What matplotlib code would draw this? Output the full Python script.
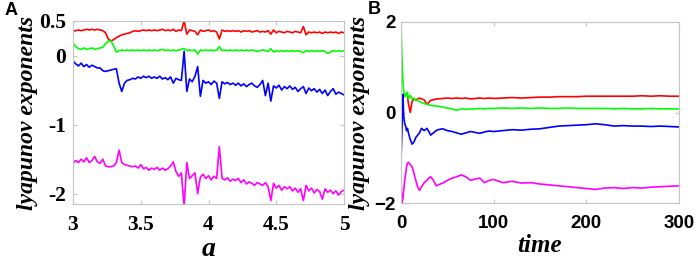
import numpy as np
import matplotlib
matplotlib.use("Agg")
import matplotlib.pyplot as plt

# ---------------- Panel A data (parameter a) ----------------
a_values = np.round(np.arange(3.0, 5.0001, 0.02), 2)

lyap_a_1 = [0.35, 0.36, 0.37, 0.36, 0.37, 0.38, 0.37, 0.38, 0.37, 0.38,
            0.37, 0.36, 0.33, 0.24, 0.21, 0.23, 0.26, 0.28, 0.30, 0.31,
            0.32, 0.33, 0.35, 0.36, 0.35, 0.36, 0.37, 0.36, 0.37, 0.36,
            0.37, 0.36, 0.37, 0.38, 0.36, 0.37, 0.36, 0.38, 0.35, 0.37,
            0.36, 0.50, 0.31, 0.37, 0.36, 0.35, 0.30, 0.37, 0.35, 0.36,
            0.37, 0.35, 0.36, 0.34, 0.24, 0.37, 0.35, 0.36, 0.35, 0.36,
            0.35, 0.36, 0.34, 0.36, 0.35, 0.36, 0.34, 0.35, 0.36, 0.34,
            0.35, 0.34, 0.36, 0.31, 0.37, 0.33, 0.35, 0.34, 0.33, 0.35,
            0.34, 0.33, 0.35, 0.34, 0.33, 0.42, 0.30, 0.34, 0.33, 0.34,
            0.33, 0.34, 0.32, 0.34, 0.33, 0.34, 0.33, 0.34, 0.32, 0.34,
            0.33]

lyap_a_2 = [0.18, 0.13, 0.10, 0.09, 0.11, 0.09, 0.10, 0.11, 0.09, 0.10,
            0.11, 0.12, 0.17, 0.21, 0.21, 0.14, 0.05, 0.07, 0.08, 0.07,
            0.08, 0.07, 0.08, 0.07, 0.08, 0.07, 0.08, 0.07, 0.08, 0.07,
            0.08, 0.07, 0.08, 0.09, 0.07, 0.08, 0.07, 0.08, 0.07, 0.08,
            0.09, 0.10, 0.07, 0.08, 0.07, 0.08, 0.02, 0.08, 0.07, 0.08,
            0.07, 0.08, 0.07, 0.08, 0.13, 0.07, 0.08, 0.07, 0.08, 0.07,
            0.08, 0.07, 0.08, 0.07, 0.08, 0.07, 0.08, 0.07, 0.06, 0.07,
            0.08, 0.07, 0.06, 0.10, 0.05, 0.07, 0.06, 0.07, 0.06, 0.07,
            0.06, 0.07, 0.06, 0.07, 0.06, 0.04, 0.07, 0.06, 0.07, 0.06,
            0.07, 0.06, 0.07, 0.06, 0.03, 0.05, 0.07, 0.06, 0.07, 0.06,
            0.07]

lyap_a_3 = [-0.08, -0.12, -0.15, -0.11, -0.16, -0.13, -0.17, -0.14, -0.16, -0.18,
            -0.18, -0.22, -0.23, -0.22, -0.21, -0.20, -0.19, -0.40, -0.52, -0.40,
            -0.36, -0.35, -0.33, -0.34, -0.31, -0.33, -0.30, -0.32, -0.30, -0.33,
            -0.31, -0.33, -0.30, -0.34, -0.32, -0.35, -0.31, -0.40, -0.33, -0.35,
            -0.36, 0.06, -0.52, -0.34, -0.38, -0.30, -0.16, -0.59, -0.36, -0.40,
            -0.38, -0.42, -0.37, -0.40, -0.62, -0.38, -0.41, -0.39, -0.42, -0.40,
            -0.43, -0.40, -0.44, -0.41, -0.45, -0.42, -0.40, -0.44, -0.46, -0.42,
            -0.36, -0.58, -0.40, -0.66, -0.44, -0.47, -0.43, -0.50, -0.45, -0.48,
            -0.44, -0.49, -0.46, -0.52, -0.48, -0.45, -0.55, -0.47, -0.51, -0.48,
            -0.53, -0.49, -0.55, -0.50, -0.58, -0.52, -0.48, -0.56, -0.53, -0.55,
            -0.57]

lyap_a_4 = [-1.56, -1.52, -1.55, -1.50, -1.54, -1.48, -1.55, -1.52, -1.46, -1.54,
            -1.56, -1.50, -1.60, -1.61, -1.61, -1.60, -1.55, -1.37, -1.55, -1.58,
            -1.59, -1.60, -1.61, -1.60, -1.63, -1.58, -1.64, -1.62, -1.66, -1.63,
            -1.65, -1.62, -1.66, -1.63, -1.66, -1.64, -1.60, -1.54, -1.68, -1.75,
            -1.70, -2.19, -1.55, -1.78, -1.74, -1.70, -2.00, -1.76, -1.72, -1.78,
            -1.74, -1.80, -1.75, -1.78, -1.32, -1.78, -1.80, -1.77, -1.82, -1.79,
            -1.81, -1.78, -1.84, -1.80, -1.86, -1.83, -1.85, -1.88, -1.84, -1.86,
            -1.88, -1.84, -1.90, -2.10, -1.85, -1.92, -1.88, -1.95, -1.90, -1.93,
            -1.90, -1.96, -1.92, -1.98, -1.93, -2.10, -1.88, -1.96, -1.92, -1.99,
            -1.94, -1.97, -2.08, -1.93, -1.98, -1.95, -2.00, -1.96, -2.02, -1.97,
            -1.95]

# ---------------- Panel B data (time) ----------------
time_values = [0, 1, 2, 3, 4, 5, 6, 7, 8, 10, 12, 14, 16, 18, 20, 22, 25, 28, 30, 32,
               35, 38, 40, 45, 50, 55, 60, 65, 70, 75, 80, 85, 90, 95, 100, 110, 120,
               130, 140, 150, 160, 170, 180, 190, 200, 210, 220, 230, 240, 250, 260,
               270, 280, 290, 300]

lyap_t_1 = [-0.50, -0.05, 0.30, 0.35, 0.40, 0.38, 0.42, 0.35, 0.20, 0.00, 0.25, 0.30,
            0.28, 0.30, 0.32, 0.30, 0.28, 0.18, 0.22, 0.27, 0.28, 0.30, 0.30, 0.31,
            0.32, 0.31, 0.32, 0.31, 0.32, 0.30, 0.31, 0.32, 0.31, 0.32, 0.31, 0.32,
            0.33, 0.32, 0.33, 0.34, 0.34, 0.35, 0.35, 0.35, 0.36, 0.36, 0.36, 0.36,
            0.36, 0.36, 0.37, 0.36, 0.37, 0.36, 0.36]

lyap_t_2 = [2.00, 1.20, 0.70, 0.45, 0.35, 0.42, 0.38, 0.45, 0.30, 0.38, 0.30, 0.32,
            0.26, 0.28, 0.24, 0.22, 0.20, 0.18, 0.17, 0.16, 0.15, 0.14, 0.14, 0.12,
            0.10, 0.08, 0.05, 0.08, 0.07, 0.08, 0.08, 0.09, 0.08, 0.09, 0.09, 0.10,
            0.09, 0.10, 0.09, 0.10, 0.09, 0.09, 0.10, 0.09, 0.09, 0.09, 0.09, 0.08,
            0.09, 0.08, 0.08, 0.09, 0.08, 0.08, 0.08]

lyap_t_3 = [-1.10, -0.40, 0.40, -0.10, -0.25, -0.30, -0.40, -0.35, -0.45, -0.60,
            -0.70, -0.65, -0.55, -0.50, -0.45, -0.35, -0.40, -0.35, -0.42, -0.50,
            -0.45, -0.40, -0.38, -0.36, -0.40, -0.42, -0.45, -0.48, -0.45, -0.42,
            -0.44, -0.46, -0.43, -0.41, -0.42, -0.40, -0.38, -0.39, -0.37, -0.36,
            -0.33, -0.30, -0.29, -0.28, -0.27, -0.25, -0.27, -0.30, -0.29, -0.30,
            -0.30, -0.31, -0.30, -0.31, -0.32]

lyap_t_4 = [-1.50, -2.00, -1.90, -1.70, -1.50, -1.35, -1.20, -1.12, -1.10, -1.15,
            -1.20, -1.35, -1.50, -1.65, -1.72, -1.65, -1.55, -1.50, -1.45, -1.42,
            -1.50, -1.62, -1.60, -1.56, -1.50, -1.45, -1.42, -1.38, -1.42, -1.50,
            -1.47, -1.45, -1.55, -1.50, -1.48, -1.55, -1.52, -1.56, -1.55, -1.58,
            -1.60, -1.62, -1.64, -1.66, -1.68, -1.70, -1.67, -1.66, -1.68, -1.66,
            -1.67, -1.65, -1.64, -1.63, -1.62]

colors = ["#ff0000", "#00ff00", "#0000ff", "#ff00ff"]

fig = plt.figure(figsize=(6.99, 2.64), dpi=100)
axA = fig.add_axes([73 / 699, 1 - 204 / 264, 271 / 699, 183 / 264])
axB = fig.add_axes([401 / 699, 1 - 203 / 264, 278 / 699, 181 / 264])

spine_col = "#c4c4c4"

for series, c in zip([lyap_a_1, lyap_a_2, lyap_a_3, lyap_a_4], colors):
    axA.plot(a_values, series, color=c, lw=1.2)
for series, c in zip([lyap_t_1, lyap_t_2, lyap_t_3, lyap_t_4], colors):
    axB.plot(time_values, series, color=c, lw=1.2)

axA.set_xlim(3, 5)
axA.set_ylim(-2.15, 0.5)
axA.set_xticks([3, 3.5, 4, 4.5, 5])
axA.set_xticklabels(["3", "3.5", "4", "4.5", "5"])
axA.set_yticks([-2, -1, 0, 0.5])
axA.set_yticklabels(["-2", "-1", "0", "0.5"])

axB.set_xlim(0, 300)
axB.set_ylim(-2, 2)
axB.set_xticks([0, 100, 200, 300])
axB.set_yticks([-2, 0, 2])

for ax in (axA, axB):
    for s in ax.spines.values():
        s.set_color(spine_col)
        s.set_linewidth(0.8)
    ax.tick_params(direction="in", length=3, width=0.8, color=spine_col,
                   top=True, right=True)

axA.tick_params(axis="x", pad=8)
axA.tick_params(axis="y", pad=5)
axB.tick_params(axis="x", pad=9)
axB.tick_params(axis="y", pad=4)

for lab in axA.get_xticklabels() + axA.get_yticklabels():
    lab.set_fontfamily("Liberation Serif")
    lab.set_fontweight("bold")
    lab.set_fontsize(15.5)
for lab in axB.get_xticklabels() + axB.get_yticklabels():
    lab.set_fontfamily("Liberation Sans")
    lab.set_fontweight("bold")
    lab.set_fontsize(13.5)

lab_kw = dict(fontfamily="Liberation Serif", fontweight="bold", fontstyle="italic")
axA.set_xlabel("a", labelpad=1, fontsize=20, **lab_kw)
axA.set_ylabel("lyapunov exponents", labelpad=1, fontsize=17, **lab_kw)
axB.set_xlabel("time", labelpad=1, fontsize=18, **lab_kw)
axB.set_ylabel("lyapunov exponents", labelpad=3, fontsize=17, **lab_kw)

fig.text(5 / 699, 1 - 2 / 264, "A", fontfamily="Liberation Sans", fontweight="bold",
         fontsize=13, va="top", ha="left")
fig.text(368 / 699, 1 - 1 / 264, "B", fontfamily="Liberation Sans", fontweight="bold",
         fontsize=13, va="top", ha="left")

fig.savefig("out.png", dpi=100)
